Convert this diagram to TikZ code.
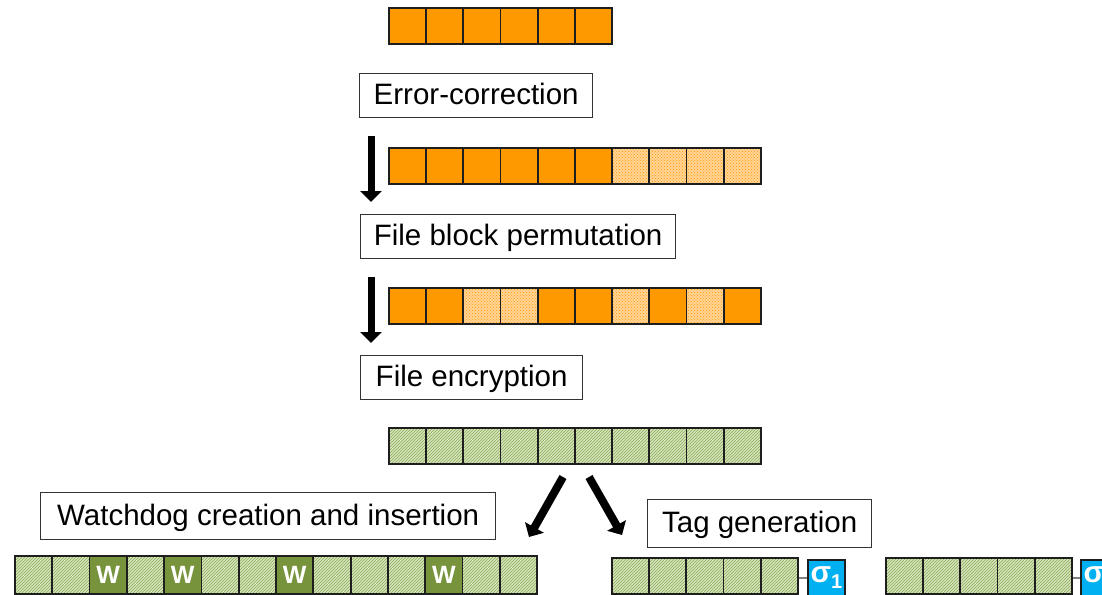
\documentclass[tikz,border=0pt]{standalone}
\usepackage{fontspec}
\setmainfont{Liberation Sans}
\usetikzlibrary{arrows.meta,patterns}

\definecolor{blockorange}{RGB}{255,153,0}
\definecolor{lightorange}{RGB}{255,212,150}
\definecolor{hatchbase}{RGB}{216,229,190}
\definecolor{hatchline}{RGB}{138,168,88}
\definecolor{wgreen}{RGB}{119,147,60}
\definecolor{sigblue}{RGB}{0,176,240}
\definecolor{celledge}{RGB}{30,30,30}

\begin{document}
\begin{tikzpicture}[x=1pt,y=-1pt,
  cell/.style={draw=celledge, line width=1.8pt, minimum width=37.2pt,
    minimum height=36pt, inner sep=0pt, anchor=north west},
  plain/.style={cell, fill=blockorange},
  padded/.style={cell, preaction={fill=lightorange}, pattern=crosshatch dots,
    pattern color=blockorange},
  enc/.style={cell, preaction={fill=hatchbase}, pattern=north east lines,
    pattern color=hatchline},
  wd/.style={cell, fill=wgreen,
    label={[text=white, font=\bfseries\fontsize{25}{25}\selectfont]center:W}},
  tagbox/.style={draw=celledge, line width=1.8pt, fill=sigblue, text=white,
    minimum width=37pt, minimum height=36pt, inner sep=0pt, anchor=north west,
    font=\bfseries\fontsize{30}{30}\selectfont},
  stage/.style={draw=black!80, line width=1.3pt, inner sep=0pt, anchor=north west,
    font=\fontsize{29.5}{29.5}\selectfont, text height=24pt, text depth=6pt},
  bigarrow/.style={line width=7pt, -{Triangle[width=21pt,length=11pt]}},
  link/.style={draw=gray, line width=1.3pt}
]
\useasboundingbox (0,0) rectangle (1102,594);
\fill[white] (0,0) rectangle (1102,594);
\clip (0,0) rectangle (1102,594);

% original file blocks
\foreach \s [count=\i] in {plain,plain,plain,plain,plain,plain}
  \node[\s] (src\i) at ({388+37.2*(\i-1)},7) {};

\node[stage, minimum width=233pt, minimum height=44pt] (err) at (359,73) {Error-correction};

% after error-correction: parity blocks appended
\foreach \s [count=\i] in {plain,plain,plain,plain,plain,plain,padded,padded,padded,padded}
  \node[\s] (ecc\i) at ({388+37.2*(\i-1)},147) {};

\node[stage, minimum width=315pt, minimum height=44pt] (perm) at (360,214) {File block permutation};

% permuted blocks
\foreach \s [count=\i] in {plain,plain,padded,padded,plain,plain,padded,plain,padded,plain}
  \node[\s] (prm\i) at ({388+37.2*(\i-1)},287) {};

\node[stage, minimum width=222pt, minimum height=44pt] (encr) at (360,355) {File encryption};

% encrypted blocks
\foreach \s [count=\i] in {enc,enc,enc,enc,enc,enc,enc,enc,enc,enc}
  \node[\s] (cip\i) at ({388+37.2*(\i-1)},427) {};

\node[stage, minimum width=455pt, minimum height=47pt] (wdog) at (40,492) {Watchdog creation and insertion};
\node[stage, minimum width=224pt, minimum height=48pt] (tagg) at (647,499) {Tag generation};

% encrypted file with watchdogs inserted
\foreach \s [count=\i] in {enc,enc,wd,enc,wd,enc,enc,wd,enc,enc,enc,wd,enc,enc}
  \node[\s, minimum width=37.3pt, minimum height=38pt] (wf\i) at ({14+37.3*(\i-1)},555) {};

% tagged segments
\foreach \s [count=\i] in {enc,enc,enc,enc,enc}
  \node[\s] (sa\i) at ({611+37.2*(\i-1)},557) {};
\node[tagbox] (sig1) at (807,559) {σ\raisebox{-6pt}{\fontsize{20}{20}\selectfont 1}};
\foreach \s [count=\i] in {enc,enc,enc,enc,enc}
  \node[\s] (sb\i) at ({885+37.2*(\i-1)},557) {};
\node[tagbox] (sig2) at (1080,559) {σ\raisebox{-6pt}{\fontsize{20}{20}\selectfont 2}};

\draw[link] (sa5.east |- sig1.west) -- (sig1.west);
\draw[link] (sb5.east |- sig2.west) -- (sig2.west);

% flow arrows
\coordinate (a1s) at (371,136);
\coordinate (a1e) at (371,202);
\coordinate (a2s) at (371,277);
\coordinate (a2e) at (371,343);
\draw[bigarrow] (a1s) -- (a1e);
\draw[bigarrow] (a2s) -- (a2e);

\coordinate (dls) at (563,477);
\coordinate (dle) at (529,537);
\coordinate (drs) at (589,477);
\coordinate (dre) at (622,535);
\draw[bigarrow, line width=8pt] (dls) -- (dle);
\draw[bigarrow, line width=8pt] (drs) -- (dre);
\end{tikzpicture}
\end{document}
